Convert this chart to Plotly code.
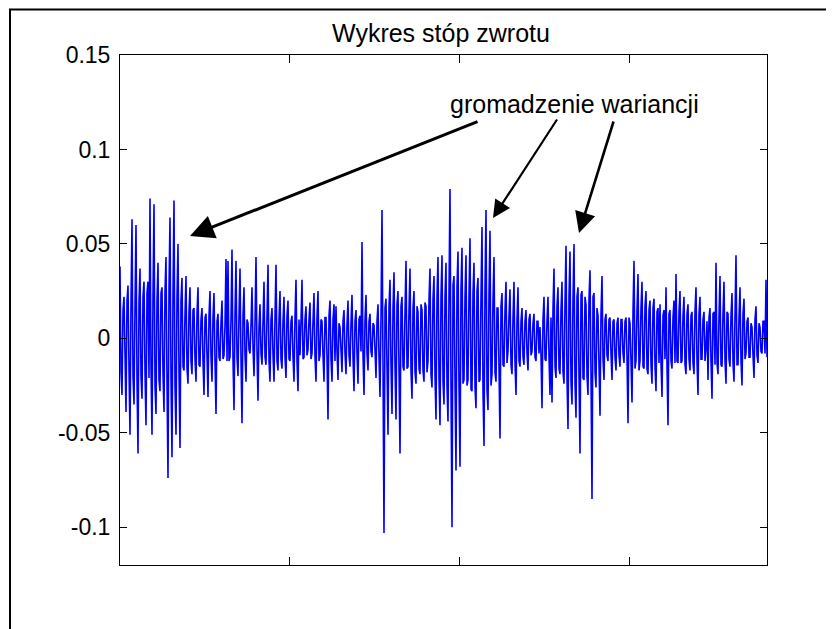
import numpy as np
import plotly.graph_objects as go

# ---------------- data ----------------
title_text = "Wykres stóp zwrotu"
annotation_text = "gromadzenie wariancji"

y_tick_values = [-0.1, -0.05, 0, 0.05, 0.1, 0.15]
y_tick_labels = ["-0.1", "-0.05", "0", "0.05", "0.1", "0.15"]
x_tick_values = [500, 1000, 1500]

peaks_part1 = [
    0.038, -0.030, 0.022, -0.039, 0.028, -0.051, 0.063, -0.035, 0.060, -0.061,
    0.037, -0.032, 0.030, -0.046, 0.030, 0.074, -0.051, 0.071, -0.040, 0.040,
    -0.028, 0.027, -0.039, 0.043, -0.074, 0.064, -0.063, 0.073, -0.051, 0.050,
    -0.058, 0.032, -0.017, 0.033, -0.024, 0.027, -0.019, 0.016, -0.023, 0.027,
    -0.015, 0.016, -0.030, 0.013, -0.031, 0.025, -0.023, 0.024, -0.040, 0.013,
    -0.012, 0.020, -0.009, 0.042,
]
peaks_part2 = [
    0.041, -0.010, 0.047, -0.038, 0.041, -0.020, 0.037, -0.045, 0.027, -0.023,
    0.008, -0.008, 0.027, -0.020, 0.043, -0.033, 0.018, -0.014, 0.030, -0.014,
    0.039, -0.023, 0.016, -0.023, 0.039, -0.017, 0.025, -0.016, 0.022, -0.021,
    0.020, -0.012, 0.012, -0.023, 0.031, -0.028, -0.009, 0.031, -0.010, 0.017,
    -0.006, 0.019, -0.008, 0.024, -0.023, 0.025, -0.009, 0.009, -0.023, 0.011,
    -0.043, 0.020, -0.023, 0.018,
]
peaks_part3 = [
    0.017, -0.022, 0.006, -0.018, 0.015, -0.019, 0.020, -0.015, 0.023, -0.028,
    0.015, -0.024, 0.012, 0.051, -0.030, 0.023, -0.017, 0.013, -0.010, 0.007,
    -0.021, 0.018, -0.031, 0.068, -0.103, 0.021, -0.051, 0.031, -0.040, 0.035,
    -0.043, 0.025, -0.061, 0.022, -0.017, 0.041, -0.015, 0.037, -0.032, 0.025,
    -0.024, 0.014, -0.019, 0.015, -0.023, 0.017, -0.012, 0.037, -0.026, 0.033,
    -0.043, 0.043, -0.046, 0.044,
]
peaks_part4 = [
    -0.035, 0.040, -0.044, 0.079, -0.100, 0.033, -0.070, 0.046, -0.068, 0.048,
    -0.022, 0.044, -0.022, 0.053, -0.028, 0.040, -0.037, 0.032, -0.022, 0.059,
    -0.057, 0.068, -0.038, 0.057, -0.019, 0.043, -0.023, 0.016, -0.053, 0.024,
    -0.015, 0.030, -0.007, 0.026, -0.019, 0.030, -0.030, 0.027, -0.015, 0.016,
    -0.014, 0.015, -0.017, 0.013, -0.007, 0.013, -0.012, 0.009, 0.006, -0.037,
    0.022, -0.012, 0.022, -0.030,
]
peaks_part5 = [
    -0.034, 0.037, -0.021, 0.027, -0.019, 0.030, -0.024, 0.049, -0.048, 0.046,
    -0.035, 0.050, -0.042, 0.027, -0.061, 0.025, -0.022, 0.018, -0.030, 0.036,
    -0.085, 0.024, -0.026, 0.012, -0.041, 0.033, -0.022, 0.013, -0.012, 0.011,
    -0.022, 0.010, -0.017, 0.011, -0.015, 0.010, -0.013, 0.011, -0.045, 0.008,
    -0.034, 0.041, -0.012, 0.034, -0.012, 0.030, -0.016, 0.025, -0.019, 0.020,
    -0.024, 0.021, -0.028, 0.016,
]
peaks_part6 = [
    0.018, -0.031, 0.015, 0.027, -0.046, 0.015, -0.016, 0.020, 0.034, -0.013,
    0.025, -0.012, 0.022, -0.019, 0.018, -0.017, 0.014, -0.019, 0.027, -0.030,
    0.022, -0.011, 0.014, -0.005, -0.022, 0.016, -0.032, 0.014, 0.040, -0.019,
    0.033, -0.015, 0.030, -0.024, 0.013, -0.015, 0.024, -0.023, 0.044, -0.014,
    0.027, -0.025, 0.021, -0.008, 0.011, -0.010, 0.006, -0.021, 0.017, -0.013,
    0.006, -0.008, 0.009, 0.031,
]

# small everyday returns in between (the dense blue core of the picture)
core_part1 = [
    -0.018, 0.015, -0.012, 0.020, -0.016, 0.018, -0.020, 0.017, -0.022, 0.019,
    -0.020, 0.022, -0.018, 0.024, -0.021, -0.016, 0.023, -0.025, 0.020, -0.022,
    0.024, -0.019, 0.025, -0.023, 0.026, -0.021, 0.024, -0.025, 0.022, -0.018,
    0.020, -0.015, 0.013, -0.016, 0.014, -0.012, 0.015, -0.011, 0.013, -0.014,
    0.010, -0.012, 0.011, -0.009, 0.012, -0.010, 0.011, -0.012, 0.009, -0.010,
    0.008, -0.011, 0.007, -0.012,
]
core_part2 = [
    -0.012, 0.010, -0.011, 0.013, -0.010, 0.012, -0.011, 0.012, -0.009, 0.010,
    -0.006, 0.007, -0.005, 0.008, -0.007, 0.006, -0.008, 0.009, -0.010, 0.011,
    -0.012, 0.010, -0.009, 0.011, -0.012, 0.010, -0.011, 0.009, -0.010, 0.012,
    -0.011, 0.009, -0.010, 0.011, -0.012, 0.010, 0.009, -0.011, 0.010, -0.009,
    0.010, -0.011, 0.009, -0.010, 0.011, -0.012, 0.010, -0.009, 0.011, -0.010,
    0.012, -0.011, 0.010, -0.012,
]
core_part3 = [
    -0.007, 0.008, -0.006, 0.009, -0.008, 0.007, -0.009, 0.008, -0.010, 0.009,
    -0.008, 0.010, -0.007, -0.009, 0.010, -0.008, 0.009, -0.007, 0.008, -0.006,
    0.009, -0.010, 0.011, -0.014, 0.016, -0.015, 0.017, -0.014, 0.016, -0.015,
    0.018, -0.016, 0.017, -0.015, 0.014, -0.016, 0.015, -0.017, 0.016, -0.018,
    0.017, -0.016, 0.018, -0.017, 0.019, -0.018, 0.020, -0.019, 0.021, -0.020,
    0.022, -0.021, 0.022, -0.023,
]
core_part4 = [
    0.022, -0.025, 0.024, -0.026, 0.028, -0.023, 0.027, -0.025, 0.026, -0.024,
    0.022, -0.025, 0.023, -0.027, 0.024, -0.026, 0.025, -0.023, 0.022, -0.028,
    0.026, -0.027, 0.024, -0.025, 0.020, -0.018, 0.016, -0.015, 0.017, -0.014,
    0.015, -0.013, 0.012, -0.014, 0.011, -0.013, 0.010, -0.012, 0.009, -0.010,
    0.009, -0.008, 0.010, -0.009, 0.008, -0.010, 0.009, -0.008, -0.009, 0.010,
    -0.011, 0.009, -0.010, 0.011,
]
core_part5 = [
    0.016, -0.015, 0.017, -0.016, 0.015, -0.018, 0.019, -0.021, 0.022, -0.023,
    0.021, -0.024, 0.022, -0.020, 0.023, -0.021, 0.022, -0.020, 0.021, -0.019,
    0.022, -0.018, 0.016, -0.014, 0.013, -0.011, 0.010, -0.009, 0.010, -0.008,
    0.009, -0.010, 0.008, -0.009, 0.010, -0.008, 0.009, -0.010, 0.011, -0.012,
    0.014, -0.016, 0.015, -0.017, 0.016, -0.015, 0.017, -0.016, 0.015, -0.014,
    0.016, -0.015, 0.014, -0.013,
]
core_part6 = [
    -0.013, 0.012, -0.011, -0.014, 0.013, -0.012, 0.011, -0.013, -0.012, 0.014,
    -0.013, 0.012, -0.014, 0.013, -0.011, 0.012, -0.013, 0.014, -0.012, 0.013,
    -0.011, 0.010, -0.012, 0.009, 0.011, -0.012, 0.013, -0.014, -0.013, 0.012,
    -0.014, 0.013, -0.012, 0.014, -0.011, 0.012, -0.013, 0.012, -0.014, 0.011,
    -0.012, 0.013, -0.011, 0.009, -0.010, 0.008, -0.009, 0.010, -0.009, 0.008,
    -0.007, 0.009, -0.008, -0.010,
]

peaks = peaks_part1 + peaks_part2 + peaks_part3 + peaks_part4 + peaks_part5 + peaks_part6
core = core_part1 + core_part2 + core_part3 + core_part4 + core_part5 + core_part6

# the series alternates one swing, one ordinary day
returns = []
for p, c in zip(peaks, core):
    returns.append(p)
    returns.append(c)
N = len(returns)
LAST_DAY = 1903
days = np.linspace(0, LAST_DAY, N)

# ---------------- layout / style ----------------
W, H = 834, 629
OFF = 8                      # page body margin in the browser
PL, PR, PT, PB = 120, 767, 55, 565   # plot box in screen pixels
L = PL - OFF
T = PT - OFF
R = W - L - (PR - PL)
B = H - T - (PB - PT)
X_RANGE = [0, 1903]
Y_RANGE = [-0.12, 0.15]
FONT = "Liberation Sans, Arial, sans-serif"

fig = go.Figure()
fig.add_trace(go.Scatter(
    x=days, y=returns, mode="lines",
    line=dict(color="#0000FF", width=1.6),
    hoverinfo="skip", showlegend=False,
))

axis_common = dict(
    showgrid=False, zeroline=False, showline=True, linecolor="black",
    linewidth=1, mirror="ticks", ticks="inside", tickcolor="black",
    tickwidth=1,
)
fig.update_xaxes(range=X_RANGE, tickvals=x_tick_values, showticklabels=False,
                 ticklen=8, **axis_common)
fig.update_yaxes(range=Y_RANGE, tickvals=y_tick_values, ticktext=y_tick_labels,
                 ticklen=7, ticklabelstandoff=4,
                 tickfont=dict(family=FONT, size=23, color="black"),
                 **axis_common)


def px_to_x(px):
    return X_RANGE[0] + (px - PL) / (PR - PL) * (X_RANGE[1] - X_RANGE[0])


def py_to_y(py):
    return Y_RANGE[1] - (py - PT) / (PB - PT) * (Y_RANGE[1] - Y_RANGE[0])


def px_to_paper(px):
    return (px - PL) / (PR - PL)


def py_to_paper(py):
    return (PB - py) / (PB - PT)


annotations = [
    dict(text=title_text, xref="paper", yref="paper", x=px_to_paper(441), y=py_to_paper(33),
         xanchor="center", yanchor="middle", showarrow=False,
         font=dict(family=FONT, size=25, color="black")),
    dict(text=annotation_text, xref="paper", yref="paper",
         x=px_to_paper(448), y=py_to_paper(104),
         xanchor="left", yanchor="middle", showarrow=False,
         font=dict(family=FONT, size=25, color="black")),
]
arrows = [((479, 121), (190, 236), 3), ((558, 118), (493, 218), 2.2), ((614, 120), (579, 233), 2.6)]
for (tx, ty), (hx, hy), w in arrows:
    annotations.append(dict(
        text="", x=px_to_x(hx), y=py_to_y(hy), xref="x", yref="y",
        ax=px_to_x(tx), ay=py_to_y(ty), axref="x", ayref="y",
        showarrow=True, arrowhead=2, arrowsize=1.6, arrowwidth=w,
        arrowcolor="black", standoff=0, startstandoff=0,
    ))

fig.update_layout(
    width=W, height=H, margin=dict(l=L, r=R, t=T, b=B),
    paper_bgcolor="white", plot_bgcolor="white",
    annotations=annotations,
    shapes=[dict(type="rect", xref="paper", yref="paper",
                 x0=px_to_paper(10), x1=px_to_paper(950),
                 y0=py_to_paper(750), y1=py_to_paper(9.5),
                 line=dict(color="black", width=2), layer="below")],
)

fig.write_html("out.html")
